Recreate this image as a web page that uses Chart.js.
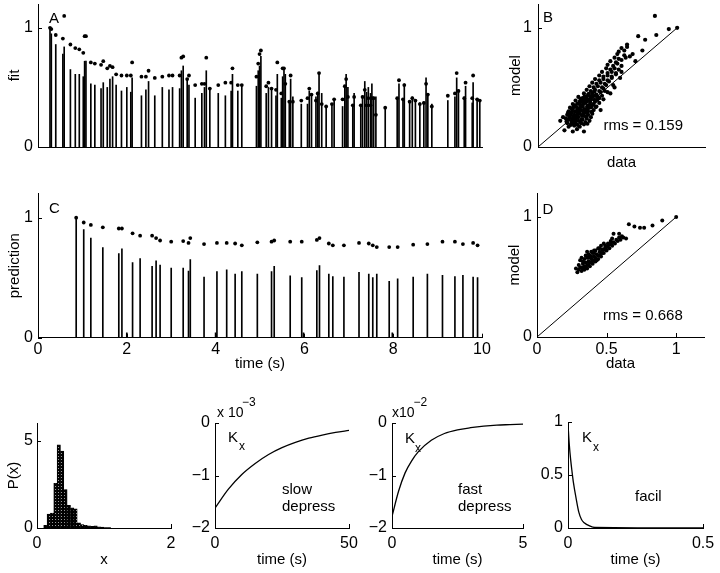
<!DOCTYPE html>
<html>
<head>
<meta charset="utf-8">
<script src="https://cdn.jsdelivr.net/npm/chart.js@4"></script>
<style>
  body { margin: 0; background: #fff; }
  #fig { position: relative; width: 720px; height: 573px; }
  canvas { position: absolute; }
</style>
</head>
<body>
<div id="fig">
  <canvas id="cA" width="500" height="160" style="left:0;top:0"></canvas>
  <canvas id="cB" width="215" height="175" style="left:505px;top:0"></canvas>
  <canvas id="cC" width="500" height="200" style="left:0;top:175px"></canvas>
  <canvas id="cD" width="215" height="200" style="left:505px;top:175px"></canvas>
  <canvas id="cH" width="185" height="178" style="left:0;top:395px"></canvas>
  <canvas id="cS" width="180" height="178" style="left:185px;top:395px"></canvas>
  <canvas id="cF" width="175" height="178" style="left:365px;top:395px"></canvas>
  <canvas id="cK" width="180" height="178" style="left:540px;top:395px"></canvas>
</div>
<script>
// ---- panel A: fit (stems = data, dots = model) ----
const aTimes = [0.27, 0.30, 0.40, 0.56, 0.59, 0.73, 0.84, 0.93, 1.02, 1.05, 1.08, 1.19, 1.28, 1.42, 1.47, 1.56, 1.62, 1.68, 1.76, 1.88, 2.00, 2.09, 2.12, 2.33, 2.43, 2.49, 2.63, 2.80, 2.95, 3.03, 3.19, 3.23, 3.27,
  3.36, 3.40, 3.54, 3.69, 3.75, 3.79, 3.87, 4.06, 4.22, 4.35, 4.38, 4.50, 4.59, 4.92, 4.96, 4.99, 5.02, 5.14, 5.19, 5.26, 5.36, 5.39, 5.48, 5.51, 5.54, 5.57, 5.66, 5.69, 5.74, 5.93, 6.07, 6.11, 6.16, 6.26, 6.30, 6.33, 6.39, 6.49, 6.62, 6.67,
  6.86, 6.91, 6.94, 6.98, 7.09, 7.12, 7.27, 7.31, 7.36, 7.40, 7.44, 7.49, 7.52, 7.56, 7.61, 7.82, 8.09, 8.13, 8.22, 8.25, 8.37, 8.43, 8.50, 8.60, 8.69, 8.74, 8.78, 8.87, 9.23, 9.39, 9.43, 9.47, 9.60, 9.63, 9.78, 9.80, 9.89, 9.95];
const aData = [1.00, 0.95, 0.86, 0.78, 0.84, 0.65, 0.61, 0.61, 0.59, 0.72, 0.72, 0.53, 0.52, 0.49, 0.54, 0.50, 0.57, 0.59, 0.52, 0.47, 0.50, 0.46, 0.58, 0.43, 0.48, 0.55, 0.43, 0.50, 0.48, 0.50, 0.49, 0.64, 0.68,
  0.57, 0.52, 0.41, 0.45, 0.50, 0.64, 0.50, 0.45, 0.43, 0.47, 0.61, 0.47, 0.52, 0.51, 0.64, 0.68, 0.76, 0.45, 0.50, 0.49, 0.43, 0.61, 0.41, 0.59, 0.66, 0.61, 0.38, 0.57, 0.42, 0.36, 0.36, 0.47, 0.44, 0.42, 0.46, 0.62, 0.45, 0.34, 0.36, 0.39,
  0.34, 0.51, 0.61, 0.50, 0.35, 0.45, 0.35, 0.43, 0.55, 0.46, 0.50, 0.45, 0.53, 0.42, 0.42, 0.33, 0.41, 0.53, 0.40, 0.53, 0.38, 0.42, 0.40, 0.37, 0.38, 0.58, 0.45, 0.36, 0.39, 0.42, 0.58, 0.48, 0.42, 0.51, 0.37, 0.54, 0.40, 0.39];
const aModel = [1.00, 0.99, 0.94, 0.91, 1.10, 0.86, 0.83, 0.82, 0.79, 0.93, 0.93, 0.71, 0.70, 0.69, 0.72, 0.66, 0.68, 0.67, 0.61, 0.60, 0.60, 0.60, 0.71, 0.59, 0.59, 0.64, 0.58, 0.59, 0.60, 0.60, 0.60, 0.75, 0.76,
  0.57, 0.60, 0.52, 0.53, 0.53, 0.75, 0.49, 0.52, 0.54, 0.54, 0.66, 0.52, 0.52, 0.59, 0.70, 0.78, 0.81, 0.51, 0.54, 0.49, 0.48, 0.71, 0.45, 0.66, 0.66, 0.53, 0.38, 0.60, 0.38, 0.39, 0.41, 0.49, 0.44, 0.39, 0.45, 0.62, 0.36, 0.34, 0.36, 0.40,
  0.40, 0.51, 0.57, 0.42, 0.35, 0.42, 0.35, 0.42, 0.48, 0.35, 0.41, 0.35, 0.41, 0.41, 0.27, 0.33, 0.41, 0.56, 0.40, 0.52, 0.38, 0.41, 0.39, 0.36, 0.37, 0.53, 0.44, 0.34, 0.43, 0.45, 0.62, 0.47, 0.41, 0.54, 0.41, 0.60, 0.40, 0.39];

// ---- panel C: prediction ----
const cTimes = [0.86, 1.03, 1.19, 1.46, 1.82, 1.89, 2.00, 2.13, 2.30, 2.57, 2.66, 2.75, 3.00, 3.27, 3.39, 3.43, 3.74, 4.00, 4.03, 4.25, 4.44, 4.59, 4.94, 5.26, 5.32, 5.68, 5.94, 5.98, 6.28, 6.34, 6.55, 6.64, 6.89, 7.23, 7.45, 7.54, 7.63, 7.91, 7.98, 8.10, 8.45, 8.77, 9.11, 9.39, 9.57, 9.80, 9.90];
const cData = [1.00, 0.90, 0.83, 0.75, 0.70, 0.74, 0.04, 0.625, 0.66, 0.595, 0.64, 0.605, 0.58, 0.58, 0.555, 0.65, 0.505, 0.04, 0.55, 0.565, 0.53, 0.55, 0.53, 0.55, 0.595, 0.515, 0.50, 0.04, 0.56, 0.60, 0.53, 0.51, 0.505, 0.545, 0.53, 0.50, 0.53, 0.47, 0.04, 0.49, 0.505, 0.53, 0.52, 0.51, 0.52, 0.505, 0.50];
const cModel = [1.00, 0.96, 0.94, 0.92, 0.91, 0.91, null, 0.87, 0.85, 0.85, 0.83, 0.81, 0.80, 0.805, 0.79, 0.83, 0.78, null, 0.79, 0.79, 0.785, 0.77, 0.795, 0.80, 0.81, 0.80, 0.80, null, 0.815, 0.83, 0.785, 0.77, 0.77, 0.79, 0.785, 0.77, 0.755, 0.755, null, 0.755, 0.775, 0.78, 0.80, 0.80, 0.78, 0.79, 0.77];

// ---- panel B: model vs data (fit), [data, model] ----
const bPoints = [
  [0.19,0.14],[0.25,0.13],[0.28,0.15],[0.33,0.13],[0.16,0.22],[0.18,0.25],
  [0.22,0.17],[0.26,0.18],[0.30,0.17],[0.33,0.19],
  [0.21,0.20],[0.24,0.21],[0.27,0.20],[0.29,0.22],[0.31,0.20],[0.34,0.21],
  [0.20,0.24],[0.22,0.23],[0.25,0.24],[0.27,0.23],[0.29,0.25],[0.32,0.23],[0.35,0.24],[0.37,0.22],
  [0.21,0.27],[0.23,0.26],[0.26,0.27],[0.28,0.26],[0.30,0.28],[0.33,0.26],[0.36,0.27],[0.38,0.25],
  [0.22,0.30],[0.24,0.29],[0.27,0.30],[0.29,0.29],[0.31,0.31],[0.34,0.29],[0.36,0.30],[0.39,0.28],
  [0.23,0.33],[0.25,0.32],[0.28,0.33],[0.30,0.32],[0.32,0.34],[0.35,0.32],[0.37,0.33],[0.40,0.31],
  [0.25,0.36],[0.27,0.35],[0.30,0.36],[0.32,0.35],[0.34,0.37],[0.37,0.35],[0.40,0.36],[0.42,0.34],
  [0.27,0.39],[0.30,0.38],[0.33,0.39],[0.35,0.38],[0.38,0.40],[0.41,0.38],[0.44,0.37],[0.45,0.31],
  [0.29,0.42],[0.32,0.41],[0.35,0.42],[0.38,0.41],[0.41,0.43],[0.44,0.41],[0.47,0.40],
  [0.235,0.185],[0.265,0.215],[0.285,0.185],[0.315,0.235],[0.255,0.255],[0.285,0.275],[0.325,0.275],
  [0.345,0.255],[0.245,0.315],[0.265,0.345],[0.295,0.305],[0.335,0.315],[0.355,0.345],[0.385,0.335],
  [0.285,0.365],[0.315,0.385],[0.345,0.405],[0.375,0.375],[0.395,0.425],[0.425,0.395],[0.365,0.445],
  [0.405,0.465],[0.215,0.285],[0.205,0.215],[0.355,0.195],[0.385,0.295],[0.415,0.335],[0.43,0.42],
  [0.225,0.245],[0.255,0.195],[0.305,0.215],[0.275,0.245],[0.315,0.265],[0.235,0.275],[0.265,0.295],
  [0.305,0.345],[0.255,0.335],[0.325,0.295],[0.355,0.315],[0.285,0.315],[0.325,0.365],[0.365,0.395],
  [0.355,0.285],[0.395,0.355],[0.305,0.405],[0.335,0.425],[0.375,0.425],[0.405,0.395],[0.245,0.225],
  [0.33,0.45],[0.36,0.44],[0.39,0.45],[0.42,0.44],[0.45,0.46],[0.52,0.45],[0.46,0.43],[0.48,0.47],
  [0.35,0.48],[0.38,0.47],[0.41,0.48],[0.44,0.47],[0.47,0.49],[0.50,0.46],
  [0.37,0.51],[0.40,0.50],[0.43,0.51],[0.46,0.50],[0.49,0.52],[0.55,0.50],
  [0.39,0.54],[0.42,0.53],[0.45,0.54],[0.48,0.53],[0.51,0.55],[0.54,0.52],
  [0.41,0.57],[0.44,0.56],[0.47,0.57],[0.50,0.56],[0.53,0.58],
  [0.44,0.60],[0.47,0.59],[0.50,0.60],[0.53,0.59],[0.56,0.61],[0.59,0.58],
  [0.46,0.63],[0.50,0.62],[0.53,0.63],[0.56,0.62],[0.60,0.63],
  [0.49,0.66],[0.52,0.65],[0.55,0.66],[0.58,0.65],
  [0.50,0.69],[0.54,0.68],[0.57,0.70],[0.60,0.68],
  [0.52,0.72],[0.56,0.71],[0.60,0.73],[0.70,0.72],
  [0.55,0.75],[0.58,0.74],[0.63,0.75],
  [0.57,0.78],[0.62,0.77],[0.66,0.76],[0.68,0.78],
  [0.58,0.80],[0.62,0.81],[0.75,0.81],
  [0.60,0.83],[0.64,0.84],[0.64,0.86],
  [0.72,0.93],[0.77,0.90],[0.85,0.94],[0.94,0.99],[1.00,1.00],[0.84,1.10]
];

// ---- panel D: model vs data (prediction), [data, model] ----
const dPoints = [
  [0.28,0.57],[0.29,0.54],
  [0.30,0.56],[0.30,0.60],[0.31,0.64],[0.31,0.58],[0.33,0.57],[0.33,0.63],
  [0.32,0.55],[0.32,0.58],[0.33,0.61],[0.32,0.66],[0.35,0.58],[0.37,0.60],
  [0.34,0.56],[0.34,0.59],[0.35,0.62],[0.34,0.65],[0.35,0.68],[0.37,0.66],
  [0.36,0.57],[0.36,0.60],[0.37,0.63],[0.36,0.66],[0.37,0.69],[0.36,0.71],
  [0.38,0.59],[0.38,0.62],[0.39,0.65],[0.38,0.68],[0.39,0.71],[0.39,0.62],[0.39,0.67],
  [0.40,0.61],[0.40,0.64],[0.41,0.67],[0.40,0.70],[0.41,0.72],[0.41,0.64],[0.41,0.70],
  [0.42,0.63],[0.42,0.66],[0.43,0.69],[0.42,0.72],[0.43,0.64],
  [0.44,0.65],[0.44,0.68],[0.45,0.71],[0.44,0.74],[0.45,0.68],[0.45,0.74],
  [0.46,0.67],[0.46,0.70],[0.47,0.73],[0.46,0.76],[0.47,0.70],
  [0.48,0.70],[0.48,0.73],[0.49,0.76],[0.48,0.78],[0.49,0.74],
  [0.50,0.72],[0.50,0.75],[0.51,0.78],[0.51,0.76],
  [0.52,0.74],[0.52,0.77],[0.53,0.80],[0.53,0.78],
  [0.54,0.76],[0.55,0.79],[0.54,0.82],
  [0.56,0.78],[0.57,0.81],
  [0.58,0.80],[0.59,0.83],
  [0.60,0.81],[0.61,0.84],
  [0.62,0.83],
  [0.55,0.86],[0.59,0.86],[0.64,0.82],[0.66,0.94],[0.70,0.92],[0.74,0.91],
  [0.77,0.91],[0.83,0.93],[0.90,0.97],[1.00,1.00]
];
const diagonal = [[0, 0], [1, 1]];

// ---- bottom row ----
const histX = [0.125, 0.175, 0.225, 0.275, 0.325, 0.375, 0.425, 0.475, 0.525, 0.575, 0.625, 0.675, 0.725, 0.775, 0.825, 0.875, 0.925, 0.975, 1.025, 1.075];
const histP = [0.15, 0.8, 0.85, 2.55, 4.75, 4.4, 2.2, 1.3, 1.15, 1.1, 0.3, 0.2, 0.15, 0.12, 0.1, 0.12, 0.06, 0.05, 0.03, 0.02];

const slowT = [0, 5, 10, 15, 20, 25, 30, 35, 40, 45, 50];
const slowK = [-1.62, -1.26, -0.98, -0.77, -0.60, -0.47, -0.37, -0.29, -0.23, -0.18, -0.14];

const fastT = [0, 0.25, 0.5, 0.75, 1, 1.5, 2, 2.5, 3, 3.5, 4, 4.5, 5];
const fastK = [-1.78, -1.30, -0.95, -0.72, -0.55, -0.33, -0.20, -0.13, -0.09, -0.06, -0.04, -0.03, -0.02];

const facilT = [0, 0.005, 0.01, 0.015, 0.02, 0.03, 0.04, 0.05, 0.06, 0.08, 0.1, 0.5];
const facilK = [0.98, 0.78, 0.64, 0.53, 0.43, 0.28, 0.15, 0.08, 0.05, 0.02, 0.005, 0];

// tick values
const ticksUnit = [0, 1];
const ticksTime = [0, 2, 4, 6, 8, 10];
const ticksHalf = [0, 0.5, 1];
const ticksHistX = [0, 2];
const ticksHistY = [0, 5];
const ticksSlowX = [0, 50];
const ticksFastX = [0, 5];
const ticksDep = [-2, -1, 0];
const ticksFacilX = [0, 0.5];

// ---------------------------------------------------------------
const FONT = '"Liberation Sans", Arial, Helvetica, sans-serif';
Chart.defaults.font.family = FONT;
Chart.defaults.font.size = 15;
Chart.defaults.color = '#000';

const fmt = v => (v < 0 ? '\u2212' + Math.abs(v) : String(v));

function axis(o) {
  return {
    type: 'linear', min: o.min, max: o.max, offset: false,
    grid: { display: false, drawTicks: false },
    border: { display: true, color: '#000', width: 1 },
    ticks: { display: o.ticks.length > 0, padding: o.pad || 5, autoSkip: false, maxRotation: 0, callback: fmt, font: { size: 16 } },
    afterBuildTicks: s => { s.ticks = o.ticks.map(v => ({ value: v })); },
    afterFit: s => {
      if (s.isHorizontal()) { s.height = o.size; s.paddingLeft = 0; s.paddingRight = 0; }
      else { s.width = o.size; s.paddingTop = 0; s.paddingBottom = 0; }
    },
    title: o.title ? { display: true, text: o.title, padding: o.titlePad, font: { size: 15 } } : { display: false }
  };
}

// MATLAB style: small ticks pointing into the plot
const inwardTicks = {
  id: 'inwardTicks',
  afterDraw(chart) {
    const { ctx, chartArea: a } = chart;
    ctx.save();
    ctx.strokeStyle = '#000';
    ctx.lineWidth = 1;
    Object.values(chart.scales).forEach(s => {
      s.ticks.forEach(t => {
        const p = Math.round(s.getPixelForValue(t.value)) + 0.5;
        ctx.beginPath();
        if (s.isHorizontal()) { ctx.moveTo(p, a.bottom); ctx.lineTo(p, a.bottom - 4); }
        else { ctx.moveTo(a.left, p); ctx.lineTo(a.left + 4, p); }
        ctx.stroke();
      });
    });
    ctx.restore();
  }
};

// text placed in data coordinates
function notes(items) {
  return {
    id: 'notes',
    afterDraw(chart) {
      const { ctx, scales: { x, y } } = chart;
      ctx.save();
      ctx.fillStyle = '#000';
      ctx.textAlign = 'left';
      ctx.textBaseline = 'middle';
      items.forEach(n => {
        ctx.font = (n.size || 15) + 'px ' + FONT;
        ctx.fillText(n.text, x.getPixelForValue(n.x), y.getPixelForValue(n.y));
      });
      ctx.restore();
    }
  };
}

const pts = (xs, ys) => xs.map((x, i) => ({ x, y: ys[i] }));
const pairs = list => list.map(([x, y]) => ({ x, y }));
const stems = (xs, ys) => ({ type: 'bar', data: pts(xs, ys), backgroundColor: '#000', barThickness: 1, borderWidth: 0 });
const dots = (data, r) => ({ type: 'scatter', data, pointRadius: r, pointBackgroundColor: '#000', pointBorderWidth: 0 });
const curve = (xs, ys) => ({ type: 'line', data: pts(xs, ys), borderColor: '#000', borderWidth: 1.3, pointRadius: 0, cubicInterpolationMode: 'monotone', fill: false });
const line = list => ({ type: 'line', data: pairs(list), borderColor: '#000', borderWidth: 1, pointRadius: 0, fill: false });

function panel(id, pad, x, y, datasets, items) {
  new Chart(document.getElementById(id), {
    type: 'scatter',
    data: { datasets },
    options: {
      responsive: false, animation: false, devicePixelRatio: 1, events: [],
      layout: { padding: { left: 0, top: pad.top, right: pad.right, bottom: 0 } },
      plugins: { legend: { display: false }, tooltip: { enabled: false } },
      scales: { x, y }
    },
    plugins: [inwardTicks, notes(items)]
  });
}

// A
panel('cA', { top: 3, right: 18 },
  axis({ min: 0, max: 10, ticks: [], size: 13 }),
  axis({ min: 0, max: 1.2, ticks: ticksUnit, size: 38, title: 'fit', titlePad: { top: 6, bottom: 0 } }),
  [dots(pts(aTimes, aModel), 1.9), stems(aTimes, aData)],
  [{ text: 'A', x: 0.25, y: 1.075 }]);

// B
panel('cB', { top: 3, right: 15 },
  axis({ min: 0, max: 1.2, ticks: [], size: 28, title: 'data', titlePad: { top: 0, bottom: 3 } }),
  axis({ min: 0, max: 1.2, ticks: ticksUnit, size: 33, pad: 6, title: 'model', titlePad: { top: 2, bottom: 0 } }),
  [dots(pairs(bPoints), 2.1), line(diagonal)],
  [{ text: 'B', x: 0.036, y: 1.08 }, { text: 'rms = 0.159', x: 0.47, y: 0.18 }]);

// C
panel('cC', { top: 18.7, right: 18 },
  axis({ min: 0, max: 10, ticks: ticksTime, size: 37.3, pad: 2.5, title: 'time (s)', titlePad: { top: 0, bottom: 2 } }),
  axis({ min: 0, max: 1.2, ticks: ticksUnit, size: 38, title: 'prediction', titlePad: { top: 6, bottom: 0 } }),
  [dots(pts(cTimes, cModel), 1.9), stems(cTimes, cData)],
  [{ text: 'C', x: 0.25, y: 1.07 }]);

// D
panel('cD', { top: 18, right: 16 },
  axis({ min: 0, max: 1.2, ticks: ticksHalf, size: 38, pad: 2.5, title: 'data', titlePad: { top: 0, bottom: 2 } }),
  axis({ min: 0, max: 1.2, ticks: ticksUnit, size: 32, title: 'model', titlePad: { top: 1, bottom: 0 } }),
  [dots(pairs(dPoints), 2.0), line(diagonal)],
  [{ text: 'D', x: 0.04, y: 1.06 }, { text: 'rms = 0.668', x: 0.475, y: 0.18 }]);

// histogram P(x)
const pc = document.createElement('canvas');
pc.width = 3; pc.height = 3;
const pcx = pc.getContext('2d');
pcx.fillStyle = '#000'; pcx.fillRect(0, 0, 3, 3);
pcx.fillStyle = '#9a9a9a'; pcx.fillRect(1, 1, 1, 1);
const dotFill = document.getElementById('cH').getContext('2d').createPattern(pc, 'repeat');

panel('cH', { top: 28, right: 14 },
  axis({ min: 0, max: 2, ticks: ticksHistX, size: 45, pad: 5.5, title: 'x', titlePad: { top: 0, bottom: 4 } }),
  axis({ min: 0, max: 6, ticks: ticksHistY, size: 37, pad: 4, title: 'P(x)', titlePad: { top: 4.5, bottom: 0 } }),
  [{ type: 'bar', data: pts(histX, histP), backgroundColor: dotFill, borderColor: '#000', borderWidth: 0.6, barPercentage: 1, categoryPercentage: 1 }],
  []);

// slow depress
panel('cS', { top: 28, right: 16 },
  axis({ min: 0, max: 50, ticks: ticksSlowX, size: 45, pad: 5.5, title: 'time (s)', titlePad: { top: 0, bottom: 4 } }),
  axis({ min: -2, max: 0, ticks: ticksDep, size: 30, pad: 5 }),
  [curve(slowT, slowK)],
  [{ text: 'x 10', x: 0.75, y: 0.19, size: 14 }, { text: '\u22123', x: 10.1, y: 0.38, size: 12 },
   { text: 'K', x: 4.85, y: -0.29 }, { text: 'x', x: 9, y: -0.46, size: 12 },
   { text: 'slow', x: 25, y: -1.28 }, { text: 'depress', x: 25, y: -1.6 }]);

// fast depress
panel('cF', { top: 28, right: 17 },
  axis({ min: 0, max: 5, ticks: ticksFastX, size: 45, pad: 5.5, title: 'time (s)', titlePad: { top: 0, bottom: 4 } }),
  axis({ min: -2, max: 0, ticks: ticksDep, size: 27, pad: 5 }),
  [curve(fastT, fastK)],
  [{ text: 'x10', x: 0, y: 0.19, size: 14 }, { text: '\u22122', x: 0.82, y: 0.38, size: 12 },
   { text: 'K', x: 0.5, y: -0.30 }, { text: 'x', x: 0.88, y: -0.48, size: 12 },
   { text: 'fast', x: 2.52, y: -1.28 }, { text: 'depress', x: 2.52, y: -1.6 }]);

// facilitation
panel('cK', { top: 27, right: 17 },
  axis({ min: 0, max: 0.5, ticks: ticksFacilX, size: 45, pad: 5.5, title: 'time (s)', titlePad: { top: 0, bottom: 4 } }),
  axis({ min: 0, max: 1, ticks: ticksHalf, size: 28, pad: 5 }),
  [curve(facilT, facilK)],
  [{ text: 'K', x: 0.052, y: 0.85 }, { text: 'x', x: 0.093, y: 0.76, size: 12 },
   { text: 'facil', x: 0.248, y: 0.29 }]);
</script>
</body>
</html>
